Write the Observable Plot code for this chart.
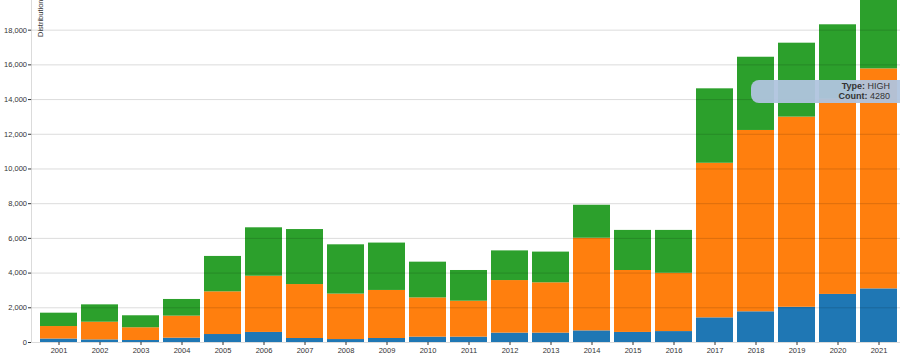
<!DOCTYPE html>
<html>
<head>
<meta charset="utf-8">
<script src="https://cdn.jsdelivr.net/npm/d3@7"></script>
<script src="https://cdn.jsdelivr.net/npm/@observablehq/plot@0.6"></script>
<style>
  html, body { margin: 0; padding: 0; background: #fff; }
  #wrap { position: relative; width: 900px; height: 361px; overflow: hidden; font-family: "Liberation Sans", Arial, sans-serif; }
  #tip {
    position: absolute; left: 751px; top: 80px; width: 160px; height: 23px;
    box-sizing: border-box; padding: 1px 21px 0 0;
    background: rgba(176,196,222,0.95); border-radius: 8px;
    font-size: 9px; line-height: 10px; color: #333; text-align: right;
  }
  #tip b { font-weight: bold; }
</style>
</head>
<body>
<div id="wrap"><div id="chart"></div><div id="tip"></div></div>
<script>
const years = [2001,2002,2003,2004,2005,2006,2007,2008,2009,2010,2011,2012,2013,2014,2015,2016,2017,2018,2019,2020,2021];
const types = ["LOW", "MEDIUM", "HIGH"];
const low    = [200,150,115,250,460,580,230,170,230,310,310,540,540,670,580,630,1420,1770,2030,2770,3090];
const medium = [720,1020,735,1270,2460,3240,3110,2620,2770,2260,2070,3030,2900,5340,3570,3360,8910,10450,10960,11260,12680];
const high   = [770,1000,690,960,2040,2790,3170,2840,2730,2060,1770,1710,1770,1900,2310,2470,4290,4220,4260,4280,4400];
const colors = ["#1f77b4", "#ff7f0e", "#2ca02c"];
const yTicks = [0,2000,4000,6000,8000,10000,12000,14000,16000,18000];
const yLabel = "Distribution";
const tipType = "HIGH";
const tipCount = 4280;

const series = [low, medium, high];
const rows = [];
types.forEach((t, k) => years.forEach((yr, i) => rows.push({year: yr, type: t, count: series[k][i]})));

const marginLeft = 31, marginBottom = 19, height = 361, width = 900;
const fmt = d3.format(",");

const plot = Plot.plot({
  width, height,
  marginTop: 0, marginRight: 0, marginLeft, marginBottom,
  style: {fontFamily: "'Liberation Sans', Arial, sans-serif", fontSize: "7.5px", color: "#333", background: "#fff"},
  x: {type: "band", domain: years, range: [35.2, 902.4], padding: 0.1, label: null, tickSize: 3, tickPadding: 2, tickFormat: (d) => String(d)},
  y: {domain: [0, 19710], nice: false, ticks: yTicks, tickFormat: fmt, label: null, tickSize: 3, tickPadding: 1.5},
  color: {domain: types, range: colors},
  marks: [
    Plot.barY(rows, {x: "year", y: "count", fill: "type"}),
    Plot.gridY(yTicks, {stroke: "#000", strokeOpacity: 0.14}),
    Plot.text([yLabel], {frameAnchor: "top-left", rotate: -90, textAnchor: "start", dx: 6, dy: 36.5, fontSize: 7.5, fill: "#333"})
  ]
});
document.getElementById("chart").appendChild(plot);

// y axis domain line
d3.select(plot).append("line")
  .attr("x1", marginLeft + 0.5).attr("x2", marginLeft + 0.5)
  .attr("y1", 0).attr("y2", height - marginBottom)
  .attr("stroke", "#000").attr("stroke-opacity", 0.14);

document.getElementById("tip").innerHTML =
  `<b>Type:</b> ${tipType}<br><b>Count:</b> ${tipCount}`;
</script>
</body>
</html>
